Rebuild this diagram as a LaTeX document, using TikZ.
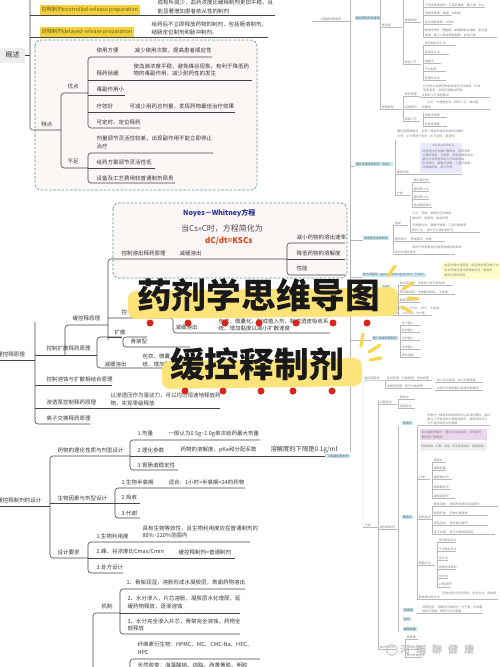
\documentclass[tikz,border=0pt]{standalone}
\usepackage{fontspec}
\setmainfont{Noto Sans CJK SC}
\definecolor{tealdash}{HTML}{5E9E98}
\definecolor{boxfill}{HTML}{FCF6F4}
\definecolor{ylw}{HTML}{F2D23C}
\definecolor{ybt}{HTML}{6B5A16}
\definecolor{hl}{HTML}{FDE37A}
\definecolor{rayc}{HTML}{F8D54C}
\definecolor{reddot}{HTML}{D8261C}
\definecolor{tc}{HTML}{383838}
\definecolor{lc}{HTML}{454545}
\definecolor{nwblue}{HTML}{28309A}
\definecolor{nwred}{HTML}{D8481C}
\definecolor{lblue}{HTML}{C4E7F1}
\tikzset{
 tl/.style={draw=lc, line width=0.6pt, rounded corners=3pt},
 lbl/.style={font=\fontsize{5.5}{6.5}\selectfont, text=tc, inner sep=0.3pt, anchor=west},
 ybox/.style={fill=ylw, text=ybt, font=\fontsize{5.3}{6}\selectfont, inner sep=1.4pt, anchor=west, minimum height=10pt},
 dbox/.style={draw=tealdash, dash pattern=on 2.6pt off 1.6pt, line width=0.7pt, fill=boxfill, rounded corners=6pt},
 fl/.style={draw=black!28, line width=0.3pt, rounded corners=1.5pt},
 ftx/.style={font=\fontsize{3}{3.5}\selectfont, text=black!48, inner sep=0.2pt, anchor=west},
 bnode/.style={fill=lblue, font=\fontsize{3}{3.5}\selectfont, text=black!60, inner sep=0.7pt, anchor=west},
 ttl/.style={font=\fontsize{34.7}{36}\selectfont\bfseries, text=black!90, inner sep=0pt, anchor=west},
 rdot/.style={fill=reddot, circle, inner sep=0pt, minimum size=7pt},
 ray/.style={draw=rayc, line width=3.2pt, line cap=round},
}
\newcounter{fn}
\newcommand\Rft[3]{\stepcounter{fn}\node[ftx] (f\arabic{fn}) at (#1,#2) {#3};}
\newcommand\Rit[4]{\draw[fl] (#1,#2+2.6) -- (#3,#2+2.6); \Rft{#1+1.5}{#2}{#4}}
\newcommand\Rbn[3]{\stepcounter{fn}\node[bnode] (f\arabic{fn}) at (#1,#2) {#3};}
\newcommand\Lt[4]{\node[lbl] (#1) at (#2,#3) {#4};}
\begin{document}
\begin{tikzpicture}[x=1pt,y=-1pt]
\useasboundingbox (0,0) rectangle (500,667);
\fill[white] (0,0) rectangle (500,667);

% ================= faded right map =================
\draw[fl] (350,-2) -- (350,452);
\draw[fl] (312,21.6) -- (350,21.6);
\Rft{320}{19}{口服缓控释制剂}
\Rbn{355}{18}{缓控释制剂的类型}
\draw[fl] (380,-2) -- (380,109.6);
\Rit{380}{25}{402}{骨架型}
\Rit{380}{107}{402}{渗透泵型}
\draw[fl] (403,-2) -- (403,64.6);
\Rit{403}{20}{421}{骨架材料}
\Rit{403}{62}{421}{制备工艺}
\draw[fl] (423,-2) -- (423,37.6);
\Rit{423}{5}{485}{不溶性骨架材料：乙基纤维素、聚乙烯、EVA}
\Rit{423}{13}{452}{溶蚀性骨架：蜂蜡、棕榈蜡}
\Rit{423}{22}{452}{亲水凝胶骨架：HPMC}
\Rft{424}{30}{溶蚀性骨架：硬脂醇、单硬脂酸甘油酯、氢化植}
\Rit{423}{35}{497}{物油、聚乙二醇单硬脂酸酯、甘油三酯}
\draw[fl] (423,45.6) -- (423,80.6);
\Rit{423}{43}{456}{湿法制粒压片法}
\Rit{423}{52}{449}{直接压片法}
\Rit{423}{61}{441}{熔融法}
\Rit{423}{69}{446}{干法制粒}
\Rit{423}{78}{446}{热熔挤出法}
\draw[fl] (403,96.6) -- (403,121.6);
\Rit{403}{94}{420}{释药原理}
\Rit{403}{107}{420}{组成部分}
\Rit{403}{119}{420}{制备工艺}
\Rft{423}{86}{片芯吸水溶解药物和渗透压活性物质，形成}
\Rft{423}{90.5}{饱和溶液，渗透压差推动药物}
\Rit{420}{95}{490}{从释药小孔恒速释出}
\Rft{427}{102}{片芯、半透膜包衣、释药小孔、推动层、}
\Rit{420}{107}{490}{助推剂}
\draw[fl] (423,112.6) -- (423,126.6);
\Rit{423}{115}{447}{单室渗透泵}
\Rit{423}{124}{447}{双室渗透泵}
\Rft{397}{131}{膜控型缓释制剂：系用一种或多种包衣材料对颗粒、}
\Rft{397}{136}{片剂、小丸等进行包衣（水不溶性、肠溶性）}
\draw[fl] (395,139.6) -- (395,195.6);
\draw[fl] (350,166.6) -- (355,166.6);
\Rbn{355}{164}{膜控型缓控释制剂（包衣）}
\fill[blue!9] (420,143) rectangle (462,173);
\Rft{432}{146}{dM/dt=ADKΔC/L}
\Rft{422}{151}{药物通过包衣膜扩散释放，释药速率}
\Rft{422}{155}{与膜的厚度、孔隙率、药物溶解度有关，}
\Rft{422}{159}{膜内外浓度差恒定时为零级释放，}
\Rft{422}{163}{包衣材料：醋酸纤维素、乙基纤维素、}
\Rft{422}{167}{丙烯酸树脂、致孔剂等}
\Rit{395}{172}{462}{膜控机制}
\Rit{395}{193}{410}{分类}
\draw[fl] (412,182.6) -- (412,207.6);
\Rit{412}{180}{430}{微孔膜包衣}
\Rit{412}{189}{429}{膜控释小丸}
\Rit{412}{197}{429}{膜控释小片}
\Rit{412}{205}{432}{肠溶膜控释片}
\draw[fl] (350,240.6) -- (363,240.6);
\Rbn{363}{238}{渗透泵型控释制剂}
\draw[fl] (393,225.6) -- (393,252.6);
\Rit{393}{223}{408}{组成}
\draw[fl] (410,215.6) -- (410,232.6);
\Rft{412}{213}{片芯：药物、渗透压活性物质、}
\Rft{412}{218}{推动剂、助悬剂、黏合剂等}
\Rft{412}{225}{半透膜包衣：醋酸纤维素、乙基纤维素等}
\Rit{410}{230}{480}{释药小孔：激光打孔或机械打孔}
\Rit{393}{239}{445}{释药特点 \quad 零级释药、恒速}
\Rft{412}{248}{释药不受胃肠道pH和胃肠蠕动的影响，}
\Rit{393}{252}{455}{体内外相关性好}
\fill[yellow!22] (442,262) rectangle (500,279);
\Rft{444}{265}{本品为胃内滞留型，能在胃内漂浮数小时，}
\Rft{444}{270}{延长药物在胃内的释放时间，提高药}
\Rft{444}{275}{物的生物利用度}
\draw[fl] (350,277.6) -- (362,277.6);
\Rbn{362}{275}{胃内滞留型（gastric floating system，FDDS）}
\Rbn{382}{287}{分类}
\draw[fl] (398,285.6) -- (398,314.6);
\Rit{398}{283}{452}{胃内漂浮型：流体动力学平衡系统}
\Rit{398}{292}{455}{胃内黏附型：生物黏附材料、卡波姆}
\Rit{398}{300}{420}{膨胀型制剂}
\Rft{394}{308}{常用辅料：HPMC、HPC、卡波姆、}
\Rit{393}{313}{432}{MC、CMC-Na、PVP等}
\draw[fl] (350,340.6) -- (372,340.6);
\Rbn{372}{338}{植入型缓控释制剂}
\draw[fl] (400,325.6) -- (400,357.6);
\Rit{400}{323}{420}{皮下植入}
\Rit{400}{330}{420}{肌内植入}
\Rit{400}{338}{420}{注射植入}
\Rit{400}{347}{420}{手术植入}
\Rit{400}{355}{420}{原位凝胶}
\draw[fl] (384,380.6) -- (363,380.6) -- (363,527.6);
\Rft{364}{378}{缓控释原理}
\draw[fl] (385,380.6) -- (385,388.6);
\Rit{385}{378}{432}{溶出原理、扩散原理、溶蚀原理}
\Rit{385}{386}{432}{渗透压原理、离子交换原理}
\Rit{435}{380}{483}{减少溶出速度、减小扩散速度}
\Rit{435}{388}{483}{以离子交换树脂为载体控制释药}
\draw[fl] (378,400) -- (378,649.6);
\Rit{378}{402}{397}{口服定位}
\draw[fl] (398,399.6) -- (398,408.6);
\Rit{398}{397}{415}{胃定位}
\Rit{398}{406}{415}{结肠定位}
\Rit{363}{525}{378}{分类}
\Rit{378}{527}{398}{缓控释制剂}
\draw[fl] (398,425.6) -- (398,631.6);
\Rbn{402}{423}{骨架片}
\Rft{427}{415}{药物与一种或多种骨架材料以及其他辅料，通过}
\Rft{427}{419}{制片工艺制成的片状固体制剂，骨架材料可以}
\Rft{427}{423}{为不溶性或亲水性骨架}
\draw[fl] (418,425.6) -- (490,425.6);
\draw[fl] (417,425.6) -- (417,599.6);
\fill[violet!16] (420,429) rectangle (487,440);
\Rft{421}{432}{亲水凝胶骨架片：遇水形成凝胶层，药物通过}
\Rft{421}{437}{凝胶层扩散释放}
\fill[black!6] (420,442) rectangle (487,451);
\Rft{421}{446}{药物释放 \; 扩散 \; 溶蚀 \; 不溶性骨架片 \; 蜡质骨架}
\Rit{417}{477}{430}{分类}
\draw[fl] (432,462.6) -- (432,498.6);
\Rit{432}{460}{446}{缓释片}
\Rit{432}{468}{446}{缓释胶囊}
\Rit{432}{477}{452}{缓释微丸剂}
\Rit{432}{487}{451}{缓释颗粒剂}
\Rit{432}{496}{455}{缓释混悬剂}
\Rbn{402}{517}{骨架片}
\Rit{417}{517}{432}{释药特点}
\draw[fl] (432,505.6) -- (432,534.6);
\Rit{432}{504}{498}{骨架溶蚀 \quad 骨架材料逐渐溶蚀释药}
\Rit{432}{513}{488}{骨架扩散 \quad 药物扩散释放}
\Rit{432}{523}{488}{骨架溶出 \quad 逐步溶出释药}
\Rit{432}{532}{495}{离子交换 \quad 离子交换树脂释药}
\Rit{417}{563}{435}{制备方法}
\draw[fl] (437,542.6) -- (437,587.6);
\Rit{437}{540}{456}{湿法制粒压片}
\Rit{437}{549}{456}{干法制粒压片}
\Rit{437}{558}{448}{压片法}
\Rit{437}{567}{456}{熔融技术制粒}
\Rit{437}{576}{448}{包衣法}
\Rit{437}{585}{450}{pH值调节}
\Rft{442}{593}{药物性质与剂型选择、包衣方法、释放度}
\Rit{417}{597}{498}{释放度试验方法}
\Rbn{403}{610}{渗透泵}
\Rft{422}{607}{药物性质：溶解性与稳定性、分子量，包衣膜}
\draw[fl] (417,613.6) -- (483,613.6);
\Rft{422}{611}{材料与厚度，释药孔径与数量}
\Rbn{403}{619}{包衣}
\Rbn{403}{629}{缓释胶囊}
\Rit{378}{647}{396}{体内外评价}
\draw[fl] (405,639.6) -- (405,657.6);
\Rit{405}{637}{418}{释放度}
\Rit{405}{647}{420}{生物利用度}
\Rit{405}{655}{422}{体内外相关性}

% ================= top-left section =================
\draw[dbox] (35,40) rectangle (257,190);
\draw[tl] (30,-5) -- (30,130) -- (61,130);
\draw[tl] (30,15) -- (275,15);
\draw[tl] (30,37) -- (268,37);
\node[fill=black!7, font=\fontsize{7}{8}\selectfont, text=tc, minimum width=25pt, minimum height=15pt, inner sep=0pt] (gs) at (12.5,55) {概述};
\draw[tl] (gs.east) -- (30,55);
\node[ybox] (yb1) at (40,10) {控释制剂controlled-release preparation};
\node[ybox] (yb2) at (40,32) {迟释制剂delayed-release preparation};
\Lt{a1}{157}{2.5}{成有所减少，血药浓度比缓释制剂更加平稳，且}
\Lt{a2}{157}{11}{能显著增加患者依从性的制剂}
\Lt{a3}{151}{24}{给药后不立即释放药物的制剂，包括肠溶制剂、}
\Lt{a4}{151}{32.5}{结肠定位制剂和脉冲制剂。}

\Lt{td}{41}{124}{特点}
\draw[tl] (88,93) -- (61,93) -- (61,168) -- (88,168);
\Lt{yd}{67}{86}{优点}
\Lt{bz}{67}{162}{不足}
\draw[tl] (212,57) -- (88,57) -- (88,128) -- (140,128);
\draw[tl] (88,80) -- (252,80);
\draw[tl] (88,95) -- (125,95);
\draw[tl] (88,112) -- (235,112);
\Lt{b1}{96}{50}{使用方便}
\Lt{b1t}{134}{50}{减少使用次数，提高患者顺应性}
\Lt{b2}{96}{73}{释药徐缓}
\Lt{b2t}{133}{66}{使血液浓度平稳，避免峰谷现象，有利于降低药}
\Lt{b2u}{133}{73.5}{物的毒副作用，减少耐药性的发生}
\Lt{b3}{96}{89}{毒副作用小}
\Lt{b4}{96}{106}{疗效好}
\Lt{b4t}{129}{106}{可减少用药总剂量，发挥药物最佳治疗效果}
\Lt{b5}{96}{122}{可定时、定位释药}
\draw[tl] (213,153) -- (88,153) -- (88,183) -- (175,183);
\draw[tl] (88,168) -- (155,168);
\Lt{c1}{96}{138}{剂量调节灵活性较差，出现副作用不能立即停止}
\Lt{c1u}{96}{146}{治疗}
\Lt{c2}{96}{162}{给药方案调节灵活性低}
\Lt{c3}{96}{178}{设备及工艺费用较普通制剂昂贵}

% ================= middle section (principles) =================
\draw[dbox] (113,203) rectangle (347,278);
\node[font=\fontsize{7}{8}\selectfont\bfseries, text=nwblue, inner sep=0pt, anchor=west] (nw) at (183,213) {Noyes－Whitney方程};
\node[font=\fontsize{8}{9}\selectfont, text=black!70, inner sep=0pt, anchor=west] (nw2) at (181,229) {当Cs>>C时，方程简化为};
\node[font=\fontsize{8}{9}\selectfont\bfseries, text=nwred, inner sep=0pt, anchor=west] (nw3) at (205,241) {dC/dt=KSCs};
\Lt{m1}{121}{253}{控制溶出释药原理}
\Lt{m1t}{179}{253}{减缓溶出}
\draw[tl] (108,340) -- (108,259) -- (287,259);
\draw[tl] (345,243) -- (287,243) -- (287,275) -- (345,275);
\draw[tl] (287,259) -- (345,259);
\Lt{m2}{296}{237}{减小药物的溶出速率}
\Lt{m3}{296}{253}{降低药物的溶解度}
\Lt{m4}{296}{268}{性能}
\draw[tl] (65,355) -- (65,325) -- (108,325);
\Lt{m5}{72}{318.5}{缓控释原理}
\draw[tl] (108,318) -- (173,318) -- (173,333) -- (330,333);
\Lt{m6}{121}{312}{控}
\Lt{m7}{175}{327}{减缓溶出}
\Lt{m8}{218}{321}{包衣、微囊化、制成植入剂、制成透皮吸收系}
\Lt{m9}{218}{328}{统、增加黏度以减小扩散速度}
\draw[tl] (108,337) -- (122,337);
\Lt{m10}{114}{332}{扩散}
\draw[tl] (147,337) -- (123,337) -- (123,347) -- (190,347);
\Lt{m11}{130}{341.5}{骨架型}
\draw[tl] (122,337) -- (97,337) -- (97,368) -- (200,368);
\Lt{m12}{104}{364}{减缓溶出}
\Lt{m13}{142}{356}{包衣、微囊}
\Lt{m14}{142}{364}{统、增加黏}
\Lt{r0}{-3}{354}{缓控释原理}
\draw[tl] (0,360) -- (35,360);
\draw[tl] (35,322) -- (35,424) -- (90,424);
\draw[tl] (35,355) -- (97,355);
\draw[tl] (35,385) -- (112,385);
\draw[tl] (35,408) -- (220,408);
\Lt{p1}{46}{348.5}{控制扩散释药原理}
\Lt{p2}{46}{379}{控制溶蚀与扩散相结合原理}
\Lt{p3}{46}{402}{渗透泵控制释药原理}
\Lt{p3t}{110}{395}{以渗透压作为驱动力，可以均匀恒速地释放药}
\Lt{p3u}{110}{403}{物，实现零级释放}
\Lt{p4}{46}{418}{离子交换释药原理}

% ================= design section =================
\Lt{r1}{-3}{500}{缓控释制剂的设计}
\draw[tl] (0,506) -- (50,506);
\draw[tl] (130,456) -- (50,456) -- (50,558) -- (88,558);
\draw[tl] (50,503) -- (115,503);
\Lt{d1}{57}{450}{药物的理化性质与剂型设计}
\draw[tl] (260,440) -- (130,440) -- (130,470) -- (178,470);
\Rbn{325}{456}{\hspace{2pt}口服缓控释制剂\hspace{2pt}}
\draw[tl] (130,456) -- (325,456);
\Lt{d11}{137}{433.5}{1.剂量}
\Lt{d11t}{168}{433.5}{一般认为0.5g\textasciitilde1.0g单次给药最大剂量}
\Lt{d12}{137}{450}{2.理化参数}
\Lt{d12t}{180}{450}{药物的溶解度，pKa和分配系数}
\node[lbl, font=\fontsize{6.3}{7}\selectfont] (d12u) at (270,449.5) {溶解度的下限是0.1g/ml};
\Lt{d13}{137}{465}{3.胃肠道稳定性}
\Lt{d2}{57}{498}{生物因素与剂型设计}
\draw[tl] (245,488) -- (115,488) -- (115,518) -- (140,518);
\draw[tl] (115,503) -- (140,503);
\Lt{d21}{121}{482}{1.生物半衰期}
\Lt{d21t}{168}{482}{适合：1小时<半衰期<24的药物}
\Lt{d22}{121}{497.5}{2.吸收}
\Lt{d23}{121}{513}{3.代谢}
\Lt{d3}{57}{552}{设计要求}
\draw[tl] (250,542) -- (88,542) -- (88,573) -- (123,573);
\draw[tl] (88,558) -- (235,558);
\Lt{d31}{96}{536}{1.生物利用度}
\Lt{d31t}{142}{528.5}{具有生物等效性，且生物利用度应在普通制剂的}
\Lt{d31u}{142}{535.5}{80\%\textasciitilde120\%范围内}
\Lt{d32}{96}{552}{2.峰、谷浓度比Cmax/Cmin}
\Lt{d32t}{178}{552}{缓控释制剂<普通制剂}
\Lt{d33}{96}{567}{3.处方设计}

% ================= mechanism section =================
\draw[tl] (120,613) -- (93,613) -- (93,670);
\Lt{e0}{101}{606.5}{机制}
\draw[tl] (245,589) -- (120,589) -- (120,634) -- (240,634);
\draw[tl] (120,613) -- (240,613);
\Lt{e1}{126}{582.5}{1、骨架润湿，溶胀形成水凝胶层，表面药物溶出}
\Lt{e2}{127}{598}{2、水分渗入，片芯溶胀，凝胶层水化增厚，延}
\Lt{e2u}{127}{606}{缓药物释放，逐渐溶蚀}
\Lt{e3}{127}{621}{3、水分完全渗入片芯，骨架完全溶蚀，药物全}
\Lt{e3u}{127}{628.5}{部释放}
\Lt{e4}{137}{644}{纤维素衍生物：HPMC、MC、CMC-Na、HEC、}
\Lt{e4u}{137}{652}{HPC}
\draw[tl] (260,659) -- (130,659) -- (130,670);
\Lt{e5}{137}{665.5}{天然胶类：海藻酸钠、琼脂、西黄蓍胶、明胶}

% ================= titles =================
\fill[hl, rounded corners=8pt] (128,291) -- (398,287) -- (398,316) -- (128,319) -- cycle;
\fill[hl, rounded corners=8pt] (162,361) -- (362,358) -- (362,386) -- (162,389) -- cycle;
\node[ttl] (title1) at (137,295) {药剂学思维导图};
\node[ttl] (title2) at (170,364) {缓控释制剂};
\foreach \xx [count=\i] in {150,188,225,259,296,333,367} \node[rdot] (da\i) at (\xx,323) {};
\foreach \xx [count=\i] in {185,223,261,293,332} \node[rdot] (db\i) at (\xx,391) {};
\draw[ray] (388,276) -- (395,266);
\draw[ray] (403,289) -- (413,283);
\draw[ray] (408,298) -- (418,299);
\draw[ray] (402,307) -- (411,312);
\draw[ray] (361,346) -- (363,334);
\draw[ray] (369,352) -- (380,345);
\draw[ray] (370,360) -- (381,358);

% ================= watermark =================
\draw[black!25, line width=0.8pt] (392,650) circle (5.5pt);
\node[font=\fontsize{10}{11}\selectfont\bfseries, text=black!22, inner sep=0pt, anchor=west] (wm) at (400,650) {河\hspace{6pt}瑞\hspace{6pt}聊\hspace{6pt}健\hspace{6pt}康};
\end{tikzpicture}
\end{document}
